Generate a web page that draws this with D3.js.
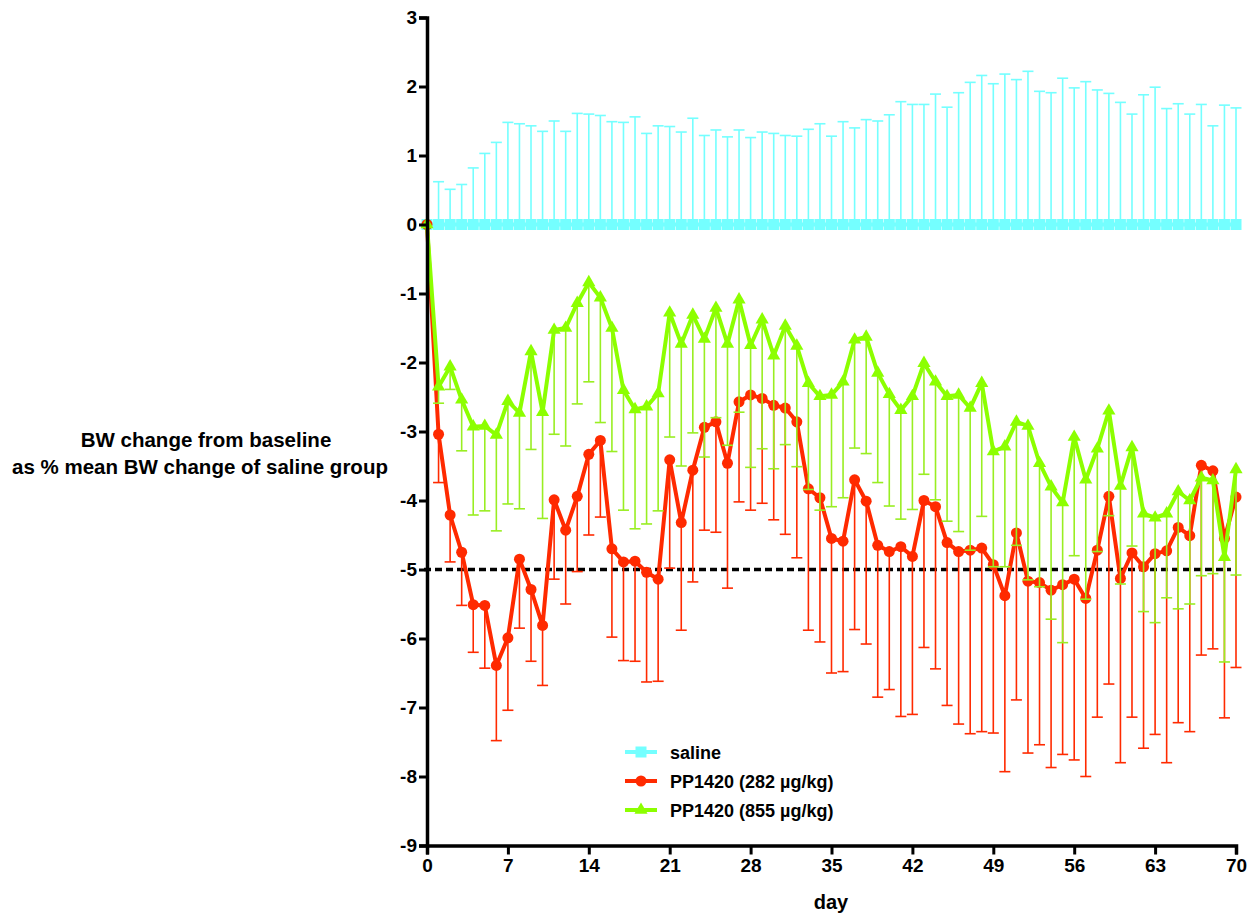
<!DOCTYPE html>
<html>
<head>
<meta charset="utf-8">
<script src="https://cdn.jsdelivr.net/npm/d3@7"></script>
<style>
  body { margin: 0; background: #fff; }
  svg text { font-family: "Liberation Sans", Arial, sans-serif; font-weight: bold; fill: #000; }
</style>
</head>
<body>
<div id="chart"></div>
<script>
// days of study
var days = d3.range(0, 71);

// saline group (mean is 0 by definition) and upper SEM
var salineMean = [0,0,0,0,0,0,0,0,0,0,0,0,0,0,0,0,0,0,0,0,0,0,0,0,0,0,0,0,0,0,0,0,0,0,0,0,0,0,0,0,0,0,0,0,0,0,0,0,0,0,0,0,0,0,0,0,0,0,0,0,0,0,0,0,0,0,0,0,0,0,0];
var salineUpper = [0,0.62,0.51,0.58,0.82,1.03,1.19,1.48,1.46,1.43,1.35,1.50,1.35,1.61,1.60,1.58,1.49,1.48,1.56,1.32,1.43,1.42,1.34,1.54,1.29,1.37,1.27,1.37,1.26,1.34,1.32,1.29,1.28,1.38,1.46,1.28,1.49,1.40,1.52,1.50,1.59,1.78,1.74,1.74,1.89,1.70,1.91,2.06,2.16,2.04,2.18,2.10,2.22,1.93,1.91,2.12,1.98,2.07,1.95,1.90,1.77,1.60,1.88,1.99,1.68,1.75,1.60,1.74,1.43,1.73,1.69];

// PP1420 282 ug/kg
var low282 = [0,-3.04,-4.21,-4.75,-5.51,-5.52,-6.39,-5.99,-4.85,-5.29,-5.81,-3.99,-4.43,-3.94,-3.33,-3.13,-4.70,-4.89,-4.88,-5.04,-5.14,-3.41,-4.32,-3.56,-2.94,-2.86,-3.46,-2.57,-2.47,-2.52,-2.62,-2.66,-2.86,-3.83,-3.96,-4.55,-4.59,-3.70,-4.01,-4.65,-4.74,-4.67,-4.81,-4.00,-4.09,-4.61,-4.74,-4.72,-4.69,-4.93,-5.38,-4.47,-5.17,-5.19,-5.30,-5.22,-5.14,-5.42,-4.72,-3.94,-5.13,-4.76,-4.96,-4.77,-4.73,-4.39,-4.51,-3.49,-3.57,-4.55,-3.95];
var low282Err = [0,-3.74,-4.89,-5.52,-6.20,-6.43,-7.48,-7.04,-5.85,-6.33,-6.68,-5.14,-5.50,-5.03,-4.50,-4.24,-5.98,-6.32,-6.33,-6.63,-6.62,-4.98,-5.88,-5.18,-4.43,-4.46,-5.27,-4.02,-4.14,-4.04,-4.28,-4.49,-4.83,-5.88,-6.05,-6.50,-6.48,-5.87,-6.08,-6.85,-6.74,-7.13,-7.10,-6.13,-6.44,-6.97,-7.24,-7.38,-7.35,-7.37,-7.93,-6.89,-7.66,-7.54,-7.87,-7.68,-7.76,-8.00,-7.14,-6.66,-7.80,-7.14,-7.59,-7.39,-7.80,-7.22,-7.35,-6.24,-6.15,-7.15,-6.42];

// PP1420 855 ug/kg
var high855 = [0,-2.35,-2.06,-2.54,-2.93,-2.92,-3.05,-2.56,-2.73,-1.84,-2.72,-1.53,-1.50,-1.14,-0.84,-1.06,-1.50,-2.40,-2.68,-2.64,-2.45,-1.28,-1.73,-1.31,-1.66,-1.21,-1.73,-1.09,-1.75,-1.38,-1.90,-1.47,-1.76,-2.30,-2.49,-2.47,-2.28,-1.67,-1.63,-2.15,-2.46,-2.69,-2.49,-2.01,-2.28,-2.49,-2.47,-2.66,-2.30,-3.29,-3.22,-2.86,-2.92,-3.46,-3.80,-4.03,-3.08,-3.70,-3.25,-2.70,-3.79,-3.23,-4.19,-4.25,-4.19,-3.87,-4.00,-3.67,-3.71,-4.82,-3.55];
var high855Err = [0,-2.59,-2.39,-3.28,-4.21,-4.15,-4.44,-4.05,-4.12,-3.26,-4.26,-3.04,-3.21,-2.60,-2.28,-2.87,-3.29,-4.14,-4.41,-4.34,-4.15,-3.08,-3.50,-3.02,-3.37,-2.80,-3.20,-2.72,-3.52,-3.25,-3.54,-3.19,-3.51,-3.84,-4.14,-4.09,-3.96,-3.24,-3.32,-3.74,-4.08,-4.27,-4.13,-3.62,-3.99,-4.30,-4.45,-4.72,-4.23,-4.96,-4.96,-4.65,-5.15,-5.25,-5.72,-6.06,-4.80,-5.43,-4.74,-4.22,-5.21,-4.66,-5.61,-5.77,-5.41,-5.57,-5.50,-5.09,-5.06,-6.34,-5.08];

var xTicks = [0, 7, 14, 21, 28, 35, 42, 49, 56, 63, 70];
var yTicks = [-9, -8, -7, -6, -5, -4, -3, -2, -1, 0, 1, 2, 3];
var threshold = -5;

var seriesNames = ['saline', 'PP1420 (282 \u00b5g/kg)', 'PP1420 (855 \u00b5g/kg)'];
var colors = {saline: '#74ffff', low: '#ff2a00', high: '#8cff00'};

var W = 1249, H = 913;
var svg = d3.select('#chart').append('svg').attr('width', W).attr('height', H);

var x = d3.scaleLinear().domain([0, 70]).range([427, 1236]);
var y = d3.scaleLinear().domain([-9, 3]).range([845.5, 17.5]);

// error bars (one-sided)
function errBars(g, means, ends, color) {
    var pts = days.filter(function(d) { return ends[d] !== means[d]; });
    g.selectAll('line.bar').data(pts).enter().append('line')
        .attr('x1', function(d) { return x(d); })
        .attr('x2', function(d) { return x(d); })
        .attr('y1', function(d) { return y(means[d]); })
        .attr('y2', function(d) { return y(ends[d]); })
        .attr('stroke', color).attr('stroke-width', 1.6);
    g.selectAll('line.cap').data(pts).enter().append('line')
        .attr('x1', function(d) { return x(d) - 5.5; })
        .attr('x2', function(d) { return x(d) + 5.5; })
        .attr('y1', function(d) { return y(ends[d]); })
        .attr('y2', function(d) { return y(ends[d]); })
        .attr('stroke', color).attr('stroke-width', 1.6);
}

var line = function(vals) {
    return d3.line().x(function(d) { return x(d); }).y(function(d) { return y(vals[d]); })(days);
};

var triangle = d3.symbol().type(d3.symbolTriangle).size(75);

// saline
var gs = svg.append('g');
errBars(gs, salineMean, salineUpper, colors.saline);
gs.append('path').attr('d', line(salineMean)).attr('fill', 'none')
    .attr('stroke', colors.saline).attr('stroke-width', 4);
gs.selectAll('rect').data(days).enter().append('rect')
    .attr('x', function(d) { return x(d) - 5.5; })
    .attr('y', function(d) { return y(salineMean[d]) - 5.5; })
    .attr('width', 11).attr('height', 11)
    .attr('fill', colors.saline);

// dashed -5 reference
svg.append('line')
    .attr('x1', x(0) - 3).attr('x2', x(70) - 5)
    .attr('y1', y(threshold)).attr('y2', y(threshold))
    .attr('stroke', '#000').attr('stroke-width', 3.5)
    .attr('stroke-dasharray', '7,4');

var gr = svg.append('g');
errBars(gr, low282, low282Err, colors.low);
var gg = svg.append('g');
errBars(gg, high855, high855Err, '#99ee22');

gr.append('path').attr('d', line(low282)).attr('fill', 'none')
    .attr('stroke', colors.low).attr('stroke-width', 4).attr('stroke-linejoin', 'round');
gr.selectAll('circle').data(days).enter().append('circle')
    .attr('cx', function(d) { return x(d); })
    .attr('cy', function(d) { return y(low282[d]); })
    .attr('r', 5.5).attr('fill', colors.low);

gg.append('path').attr('d', line(high855)).attr('fill', 'none')
    .attr('stroke', colors.high).attr('stroke-width', 4).attr('stroke-linejoin', 'round');
gg.selectAll('path.tri').data(days).enter().append('path')
    .attr('class', 'tri')
    .attr('d', triangle)
    .attr('transform', function(d) { return 'translate(' + x(d) + ',' + y(high855[d]) + ')'; })
    .attr('fill', colors.high);

// axes
var yAxis = svg.append('g').attr('transform', 'translate(' + x(0) + ',0)')
    .call(d3.axisLeft(y).tickValues(yTicks).tickSize(8).tickPadding(2).tickFormat(d3.format('d')));
var xAxis = svg.append('g').attr('transform', 'translate(0,' + y(-9) + ')')
    .call(d3.axisBottom(x).tickValues(xTicks).tickSize(9).tickPadding(4));
[xAxis, yAxis].forEach(function(a) {
    a.select('.domain').attr('stroke', '#000').attr('stroke-width', 3.5);
    a.selectAll('.tick line').attr('stroke', '#000').attr('stroke-width', 3);
    a.selectAll('.tick text').style('font-size', '19px').style('font-family', '"Liberation Sans", Arial, sans-serif').style('font-weight', 'bold');
});
yAxis.selectAll('.tick text').text(function(d) { return d; });

// axis titles
svg.append('text').attr('x', 831).attr('y', 909).attr('text-anchor', 'middle')
    .style('font-size', '20px').text('day');
svg.append('text').attr('x', 206).attr('y', 447).attr('text-anchor', 'middle')
    .style('font-size', '20.5px').text('BW change from baseline');
svg.append('text').attr('x', 200).attr('y', 474).attr('text-anchor', 'middle')
    .style('font-size', '20.5px').text('as % mean BW change of saline group');

// legend
var legendY = [752, 781, 810];
var lg = svg.append('g');
seriesNames.forEach(function(name, i) {
    var c = [colors.saline, colors.low, colors.high][i];
    lg.append('line').attr('x1', 625).attr('x2', 657)
        .attr('y1', legendY[i]).attr('y2', legendY[i])
        .attr('stroke', c).attr('stroke-width', 4);
    if (i === 0) {
        lg.append('rect').attr('x', 635.5).attr('y', legendY[i] - 5.5).attr('width', 11).attr('height', 11).attr('fill', c);
    } else if (i === 1) {
        lg.append('circle').attr('cx', 641).attr('cy', legendY[i]).attr('r', 5.5).attr('fill', c);
    } else {
        lg.append('path').attr('d', triangle).attr('transform', 'translate(641,' + legendY[i] + ')').attr('fill', c);
    }
    lg.append('text').attr('x', 670).attr('y', legendY[i] + 6.5)
        .style('font-size', '18px').text(name);
});
</script>
</body>
</html>
